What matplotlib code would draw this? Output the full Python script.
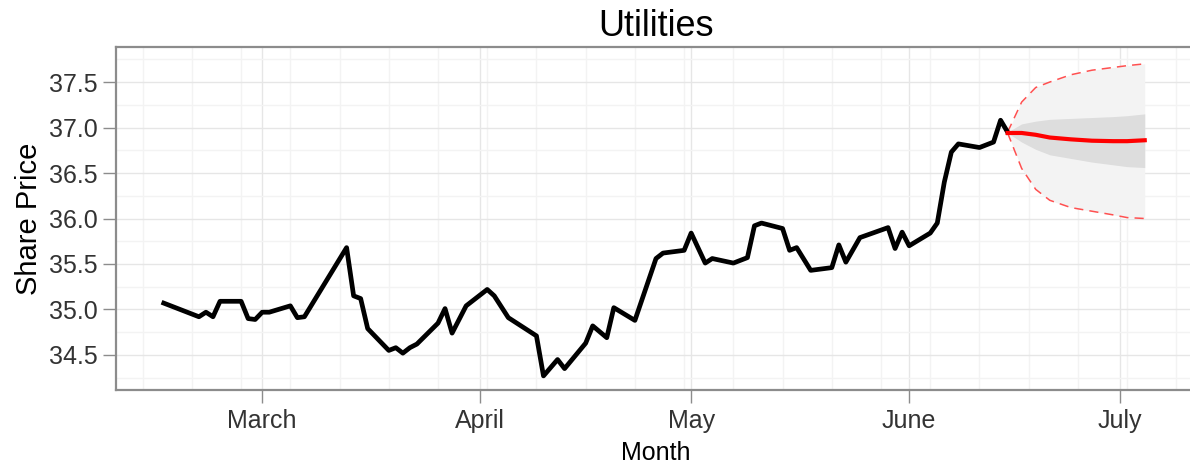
import matplotlib
matplotlib.use('Agg')
import matplotlib.pyplot as plt
import matplotlib.dates as mdates
import numpy as np
import pandas as pd

plt.rcParams['font.family'] = ['Liberation Sans', 'DejaVu Sans']

# observed share price
dates = ['2013-02-15', '2013-02-20', '2013-02-21', '2013-02-22', '2013-02-23', '2013-02-26',
         '2013-02-27', '2013-02-28', '2013-03-01', '2013-03-02', '2013-03-05', '2013-03-06',
         '2013-03-07', '2013-03-13', '2013-03-14', '2013-03-15', '2013-03-16', '2013-03-19',
         '2013-03-20', '2013-03-21', '2013-03-22', '2013-03-23', '2013-03-26', '2013-03-27',
         '2013-03-28', '2013-03-30', '2013-04-02', '2013-04-03', '2013-04-05', '2013-04-09',
         '2013-04-10', '2013-04-12', '2013-04-13', '2013-04-16', '2013-04-17', '2013-04-19',
         '2013-04-20', '2013-04-23', '2013-04-26', '2013-04-27', '2013-04-28', '2013-04-30',
         '2013-05-01', '2013-05-03', '2013-05-04', '2013-05-07', '2013-05-09', '2013-05-10',
         '2013-05-11', '2013-05-14', '2013-05-15', '2013-05-16', '2013-05-18', '2013-05-21',
         '2013-05-22', '2013-05-23', '2013-05-25', '2013-05-29', '2013-05-30', '2013-05-31',
         '2013-06-01', '2013-06-04', '2013-06-05', '2013-06-06', '2013-06-07', '2013-06-08',
         '2013-06-11', '2013-06-13', '2013-06-14', '2013-06-15']
price = [35.07, 34.92, 34.97, 34.92, 35.09, 35.09,
         34.90, 34.89, 34.97, 34.97, 35.04, 34.91,
         34.92, 35.68, 35.15, 35.12, 34.79, 34.55,
         34.58, 34.52, 34.58, 34.62, 34.85, 35.01,
         34.74, 35.04, 35.22, 35.15, 34.91, 34.71,
         34.27, 34.45, 34.35, 34.63, 34.82, 34.69,
         35.02, 34.88, 35.56, 35.62, 35.63, 35.65,
         35.84, 35.51, 35.56, 35.51, 35.57, 35.92,
         35.95, 35.89, 35.65, 35.68, 35.43, 35.46,
         35.71, 35.52, 35.79, 35.90, 35.67, 35.85,
         35.70, 35.84, 35.95, 36.40, 36.73, 36.82,
         36.78, 36.84, 37.08, 36.95]

# forecast
fc_dates = ['2013-06-15', '2013-06-17', '2013-06-19', '2013-06-21', '2013-06-24',
            '2013-06-27', '2013-06-30', '2013-07-02', '2013-07-04']
fc_mean = [36.94, 36.94, 36.92, 36.89, 36.87, 36.855, 36.85, 36.85, 36.86]
fc_lo80 = [36.94, 36.84, 36.76, 36.70, 36.66, 36.62, 36.59, 36.57, 36.56]
fc_hi80 = [36.95, 37.04, 37.07, 37.09, 37.10, 37.11, 37.12, 37.13, 37.15]
fc_lo95 = [36.94, 36.55, 36.32, 36.20, 36.12, 36.08, 36.04, 36.01, 36.00]
fc_hi95 = [36.95, 37.28, 37.44, 37.50, 37.58, 37.63, 37.66, 37.68, 37.70]

x = pd.to_datetime(dates)
fx = pd.to_datetime(fc_dates) + pd.to_timedelta([0, 0, 0, 0, 0, 0, 0, 0, 12], unit='h')

fig = plt.figure(figsize=(11.9, 4.76), dpi=100)
# panel runs past the right edge of the picture, as in the reference
ax = fig.add_axes([116/1190, 1-390/476, 1080/1190, 343/476])

ax.fill_between(fx, fc_lo95, fc_hi95, color='#f3f3f3', lw=0, zorder=2)
ax.fill_between(fx, fc_lo80, fc_hi80, color='#dddddd', lw=0, zorder=3)
ax.plot(fx, fc_hi95, color='#ff5050', lw=1.1, dashes=(6, 4), zorder=4)
ax.plot(fx, fc_lo95, color='#ff5050', lw=1.1, dashes=(6, 4), zorder=4)
ax.plot(x, price, color='black', lw=3.4, solid_joinstyle='round', zorder=5)
ax.plot(fx, fc_mean, color='red', lw=3.0, solid_joinstyle='round', zorder=6)

ax.set_xlim(pd.Timestamp('2013-02-08 05:00'), pd.Timestamp('2013-07-11 19:00'))
ax.set_ylim(34.115, 37.885)

ax.xaxis.set_major_locator(mdates.MonthLocator())
ax.xaxis.set_major_formatter(mdates.DateFormatter('%B'))
ax.xaxis.set_minor_locator(mdates.WeekdayLocator(byweekday=mdates.TU))
ax.set_yticks(np.arange(34.5, 37.51, 0.5))
ax.set_yticks(np.arange(34.25, 37.8, 0.5), minor=True)

ax.grid(True, which='major', color='#e6e6e6', lw=1.0, zorder=0)
ax.grid(True, which='minor', color='#f3f3f3', lw=1.0, zorder=0)
ax.set_axisbelow(True)

for s in ax.spines.values():
    s.set_color('#8c8c8c')
    s.set_linewidth(1.6)

ax.tick_params(which='major', length=9.5, width=1.0, color='#8c8c8c',
               labelsize=18, labelcolor='#333333', pad=4)
ax.tick_params(which='minor', length=0)

ax.set_title('Utilities', fontsize=26, pad=8)
ax.set_xlabel('Month', fontsize=18, labelpad=6)
ax.set_ylabel('Share Price', fontsize=21, labelpad=4)

fig.savefig('out.png', dpi=100)
